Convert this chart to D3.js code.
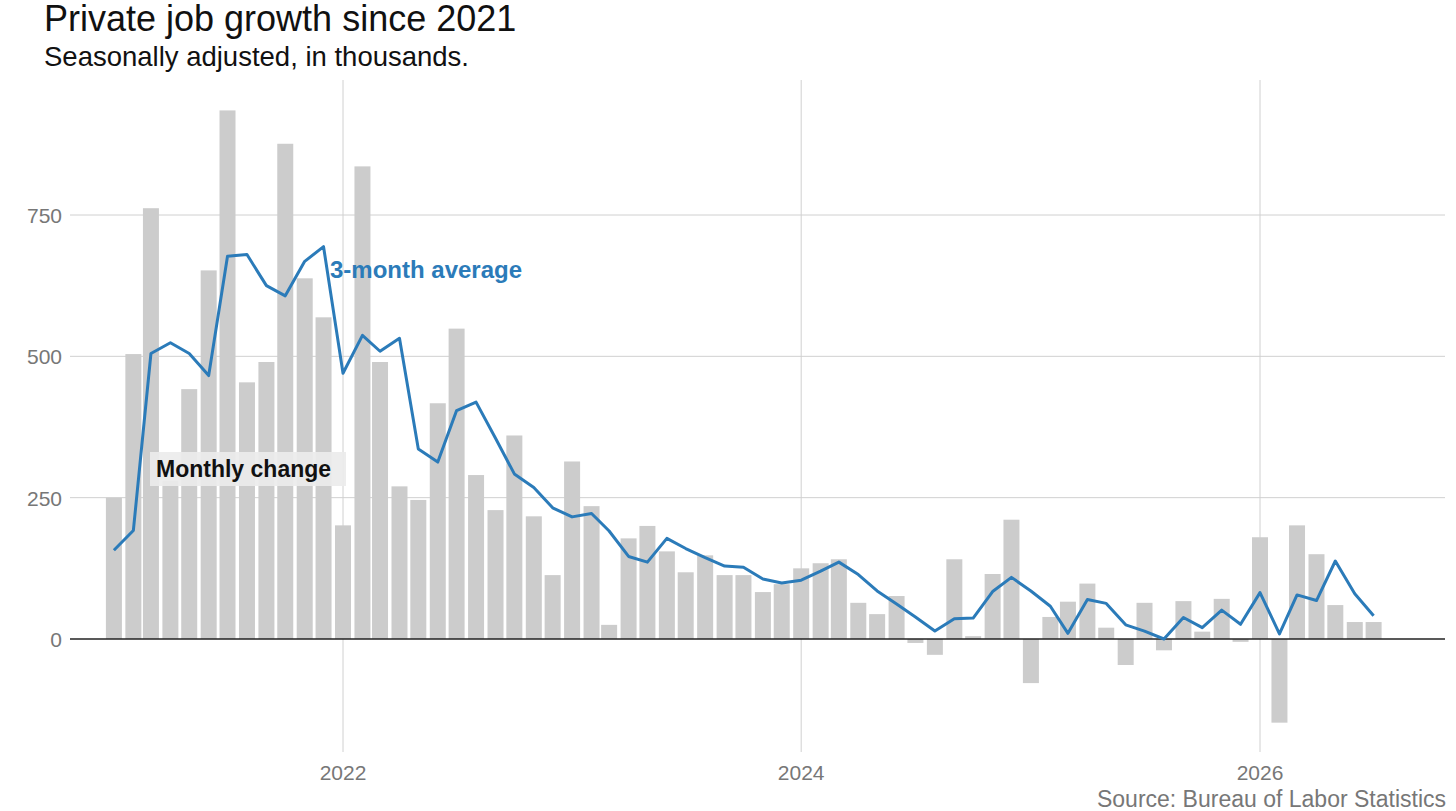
<!DOCTYPE html>
<html><head><meta charset="utf-8">
<script src="https://cdn.jsdelivr.net/npm/d3@7"></script>
<style>body{margin:0;background:#fff;font-family:"Liberation Sans",Arial,sans-serif}</style>
</head><body><svg id="c" width="1456" height="811"></svg>
<script>
const startMonth = "2021-01";
const monthly = [250,504,762,280,442,652,935,454,490,876,638,569,
201,836,490,270,246,417,549,290,228,360,217,113,
314,235,25,178,200,155,118,148,113,113,83,97,
125,134,141,64,44,76,-7,-28,141,5,115,211,
-78,39,66,98,20,-46,64,-20,67,13,71,-5,
180,-148,201,150,60,30,30];
const avg3 = [157,192,505,524,505,466,677,680,625,607,668,694,
470,537,509,532,336,313,404,419,355,292,268,232,
216,222,191,146,136,178,160,144,129,127,106,99,
104,120,136,114,85,62,39,14,36,37,84,109,
85,58,10,70,63,25,14,0,38,20,51,26,
82,9,78,68,138,80,41];
const yTicks = [0,250,500,750];
const xTicks = ["2022","2024","2026"];

const svg = d3.select("#c");
const dates = monthly.map((d,i)=>new Date(2021, i, 1));
const x = d3.scaleTime().domain([new Date(2022,0,1), new Date(2026,0,1)]).range([343,1260]);
const y = d3.scaleLinear().domain([0,750]).range([639,215]);
const L=70, R=1445;

svg.selectAll(".hg").data(yTicks.filter(d=>d!==0)).join("line")
 .attr("x1",L).attr("x2",R).attr("y1",d=>y(d)).attr("y2",d=>y(d)).attr("stroke","#d0d0d0");
svg.selectAll(".vg").data(xTicks).join("line")
 .attr("x1",d=>x(new Date(+d,0,1))).attr("x2",d=>x(new Date(+d,0,1)))
 .attr("y1",80).attr("y2",752).attr("stroke","#d0d0d0");
svg.selectAll(".yl").data(yTicks).join("text")
 .attr("x",62).attr("y",d=>y(d)+8).attr("text-anchor","end")
 .attr("font-size",21).attr("fill","#777").text(d=>d);
svg.selectAll(".xl").data(xTicks).join("text")
 .attr("x",d=>x(new Date(+d,0,1))).attr("y",780).attr("text-anchor","middle")
 .attr("font-size",21).attr("fill","#777").text(d=>d);

const bw=16;
svg.selectAll(".bar").data(monthly).join("rect")
 .attr("x",(d,i)=>x(dates[i])-bw/2).attr("width",bw)
 .attr("y",d=>y(Math.max(0,d))).attr("height",d=>Math.abs(y(d)-y(0)))
 .attr("fill","#cccccc");

svg.append("line").attr("x1",L).attr("x2",R).attr("y1",y(0)).attr("y2",y(0)).attr("stroke","#222").attr("stroke-width",1.3);

const g = svg.append("g");
g.append("rect").attr("x",150).attr("y",452).attr("width",196).attr("height",34).attr("fill","#ececec").attr("opacity",0.92);
g.append("text").attr("x",156).attr("y",477).attr("font-size",23).attr("font-weight","bold").attr("fill","#111").text("Monthly change");

svg.append("path").datum(avg3)
 .attr("d",d3.line().x((d,i)=>x(dates[i])).y(d=>y(d)))
 .attr("fill","none").attr("stroke","#2b7bb9").attr("stroke-width",3).attr("stroke-linejoin","round");
svg.append("text").attr("x",330).attr("y",278).attr("font-size",24).attr("font-weight","bold").attr("fill","#2b7bb9").text("3-month average");

svg.append("text").attr("x",44).attr("y",31).attr("font-size",36).attr("fill","#111").text("Private job growth since 2021");
svg.append("text").attr("x",44).attr("y",66).attr("font-size",27.5).attr("fill","#111").text("Seasonally adjusted, in thousands.");
svg.append("text").attr("x",1446).attr("y",807).attr("text-anchor","end").attr("font-size",23).attr("fill","#777").text("Source: Bureau of Labor Statistics");
</script></body></html>
